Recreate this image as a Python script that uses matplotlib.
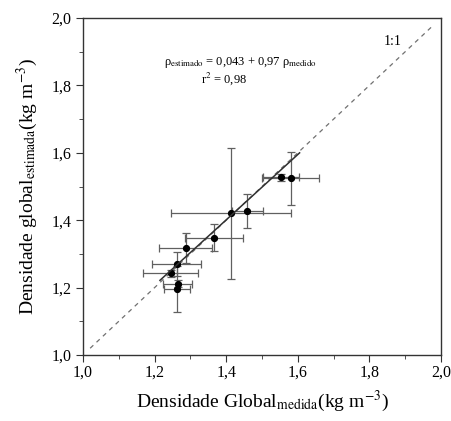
import matplotlib
matplotlib.use("Agg")
import matplotlib.pyplot as plt
from matplotlib.ticker import MultipleLocator, FuncFormatter

plt.rcParams['font.family'] = ['Liberation Serif', 'DejaVu Serif']
plt.rcParams['mathtext.fontset'] = 'stix'

# densidade global medida x estimada (kg m-3)
dens_medida = [1.552, 1.580, 1.459, 1.413, 1.366, 1.287, 1.262, 1.245, 1.264, 1.263]
dens_estimada = [1.527, 1.524, 1.428, 1.420, 1.348, 1.318, 1.270, 1.242, 1.212, 1.196]
erro_medida = [0.050, 0.079, 0.044, 0.168, 0.080, 0.074, 0.069, 0.076, 0.041, 0.036]
erro_estimada = [0.010, 0.078, 0.050, 0.195, 0.040, 0.045, 0.035, 0.010, 0.010, 0.067]

# regressão linear: rho_est = a + b * rho_med
coef_a = 0.043
coef_b = 0.97
faixa_regressao = [1.215, 1.605]

fig = plt.figure(figsize=(4.52, 4.21), dpi=100)
ax = fig.add_axes([0.1836, 0.1568, 0.7921, 0.8004])

# linha 1:1
ax.plot([1.02, 1.98], [1.02, 1.98], linestyle=(0, (3.5, 3.5)), color='#707070', lw=0.9)

ax.errorbar(dens_medida, dens_estimada, xerr=erro_medida, yerr=erro_estimada,
            fmt='o', color='black', ms=4.2, ecolor='#606060', elinewidth=0.9,
            capsize=3, capthick=0.9, zorder=3)

ax.plot(faixa_regressao, [coef_a + coef_b * v for v in faixa_regressao],
        color='#303030', lw=1.1, zorder=4)

ax.text(1.44, 1.868, r'ρ$_{\mathrm{estimado}}$ = 0,043 + 0,97 ρ$_{\mathrm{medido}}$',
        ha='center', va='center', fontsize=9)
ax.text(1.395, 1.82, r'r$^{2}$ = 0,98', ha='center', va='center', fontsize=9)
ax.text(1.866, 1.929, '1:1', ha='center', va='center', fontsize=10)

ax.set_xlim(1.0, 2.0)
ax.set_ylim(1.0, 2.0)
ax.xaxis.set_major_locator(MultipleLocator(0.2))
ax.yaxis.set_major_locator(MultipleLocator(0.2))
ax.xaxis.set_minor_locator(MultipleLocator(0.1))
ax.yaxis.set_minor_locator(MultipleLocator(0.1))
virgula = FuncFormatter(lambda v, p: f'{v:.1f}'.replace('.', ','))
ax.xaxis.set_major_formatter(virgula)
ax.yaxis.set_major_formatter(virgula)
ax.tick_params(which='both', direction='out', top=False, right=False,
               labelsize=11.5, color='#333333')
ax.tick_params(which='major', length=5)
ax.tick_params(which='minor', length=3)
ax.tick_params(axis='x', pad=2)

for s in ax.spines.values():
    s.set_linewidth(1.0)
    s.set_color('#333333')

ax.set_xlabel(r'Densidade Global$_{\mathrm{medida}}$(kg m$^{\mathrm{-3}}$)', fontsize=14, labelpad=6)
ax.set_ylabel(r'Densidade global$_{\mathrm{estimada}}$(kg m$^{\mathrm{-3}}$)', fontsize=14, labelpad=8)

fig.savefig('out.png', dpi=100)
